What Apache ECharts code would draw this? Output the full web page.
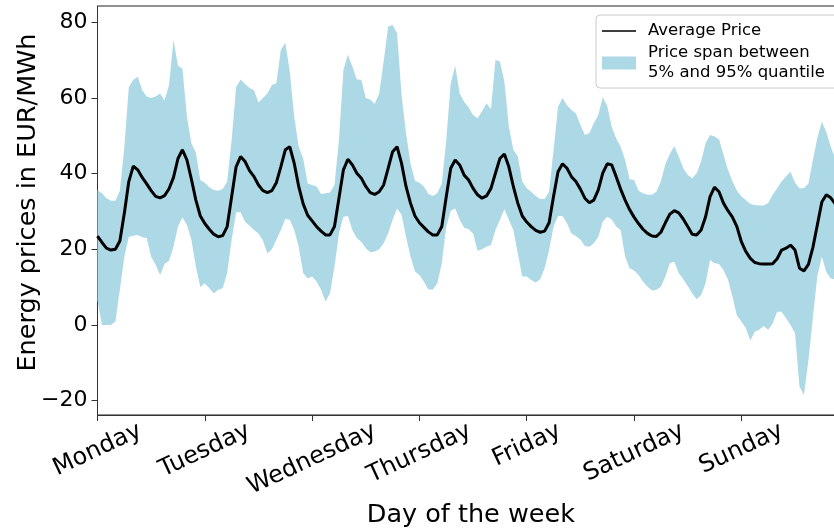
<!DOCTYPE html>
<html>
<head>
<meta charset="utf-8">
<script src="https://cdn.jsdelivr.net/npm/echarts@6/dist/echarts.min.js"></script>
<style>
html,body{margin:0;padding:0;background:#ffffff;}
#chart{width:834px;height:531px;}
</style>
</head>
<body>
<div id="chart"></div>
<script>
// ---------------- data ----------------
const dayLabels = ['Monday', 'Tuesday', 'Wednesday', 'Thursday', 'Friday', 'Saturday', 'Sunday'];
const hoursInWeek = 168;
const yTickValues = [-20, 0, 20, 40, 60, 80];

// hourly average price (hour 0 = Monday 00:00)
const meanPrice = [
  // Monday
  23.5, 21.8, 20.3, 19.8, 20.0, 22.2, 29.5, 37.9, 42.0, 41.0, 39.0, 37.3, 35.5, 34.0, 33.6, 34.2, 36.0, 39.0, 44.0, 46.3, 43.6, 38.5, 33.0, 28.8,
  // Tuesday
  26.8, 25.3, 24.0, 23.3, 23.6, 26.0, 33.9, 41.8, 44.5, 43.2, 40.8, 39.2, 37.0, 35.5, 35.0, 35.5, 37.6, 41.8, 46.3, 47.1, 42.7, 36.6, 32.0, 29.0,
  // Wednesday
  27.5, 26.0, 24.8, 23.8, 23.8, 26.0, 33.5, 41.0, 43.8, 42.3, 40.1, 38.8, 36.6, 35.0, 34.5, 35.2, 37.0, 41.4, 45.8, 47.1, 42.7, 36.6, 32.2, 28.8,
  // Thursday
  27.0, 25.8, 24.6, 23.8, 23.8, 26.0, 33.9, 41.4, 43.6, 42.3, 39.6, 38.3, 36.1, 34.4, 33.5, 34.1, 36.1, 40.1, 44.0, 45.2, 41.8, 36.6, 32.2, 28.8,
  // Friday
  27.2, 26.0, 25.0, 24.5, 24.8, 27.0, 34.0, 40.5, 42.6, 41.4, 39.2, 37.9, 35.9, 33.5, 32.3, 33.0, 35.7, 40.1, 42.6, 42.3, 39.2, 35.9, 33.0, 30.5,
  // Saturday
  28.5, 26.8, 25.3, 24.2, 23.5, 23.4, 24.5, 27.0, 29.3, 30.2, 29.6, 28.0, 26.0, 24.0, 23.8, 25.1, 28.6, 33.9, 36.4, 35.2, 32.2, 30.2, 28.5, 26.0,
  // Sunday (visible part)
  22.0, 19.4, 17.6, 16.5, 16.2, 16.1, 16.1, 16.2, 17.5, 19.8, 20.3, 21.1, 19.8, 15.0, 14.3, 16.0, 20.5, 26.5, 32.5, 34.4, 33.6, 32.0
];

// 95% quantile
const upperQuantile = [
  35.7, 34.8, 33.5, 32.8, 32.8, 35.5, 47.0, 62.8, 64.8, 65.6, 62.0, 60.4, 60.0, 60.4, 61.2, 59.3, 63.4, 75.3, 68.5, 67.7, 55.0, 48.0, 45.5, 38.3,
  37.6, 36.4, 35.7, 35.5, 35.9, 37.9, 48.9, 62.8, 64.9, 63.7, 62.6, 62.0, 58.8, 60.0, 61.2, 63.4, 63.9, 72.7, 74.6, 67.0, 55.0, 47.1, 44.0, 37.4,
  37.0, 36.6, 34.6, 34.8, 35.0, 37.0, 48.9, 67.4, 71.4, 68.3, 64.9, 64.8, 60.0, 59.6, 58.4, 61.2, 69.6, 78.9, 79.3, 77.1, 60.8, 50.7, 42.7, 38.1,
  37.6, 36.6, 34.6, 34.1, 34.8, 37.4, 48.9, 63.9, 68.5, 61.2, 59.0, 57.5, 55.5, 54.6, 56.5, 58.6, 57.0, 70.0, 69.6, 64.3, 52.4, 46.3, 44.5, 37.9,
  36.1, 35.2, 34.1, 33.3, 33.3, 35.2, 46.3, 57.7, 60.0, 58.1, 56.8, 55.9, 52.9, 50.2, 50.7, 53.3, 55.5, 60.2, 57.9, 52.4, 49.3, 47.1, 43.6, 38.5,
  38.3, 35.5, 34.8, 34.4, 34.4, 35.2, 37.9, 42.5, 45.2, 47.3, 44.5, 41.4, 39.6, 38.8, 40.1, 43.2, 48.0, 50.2, 49.8, 49.1, 45.0, 41.0, 38.0, 35.5,
  34.0, 33.0, 32.0, 31.7, 31.6, 31.6, 32.2, 34.4, 36.1, 37.9, 39.3, 40.5, 37.6, 36.1, 36.1, 37.4, 43.6, 49.5, 53.7, 51.0, 47.1, 44.0
];

// 5% quantile
const lowerQuantile = [
  6.5, 0.0, 0.0, 0.0, 0.9, 9.3, 18.0, 23.3, 23.6, 23.8, 23.2, 23.0, 18.0, 15.9, 13.2, 16.1, 17.0, 20.7, 26.0, 28.4, 26.4, 22.5, 15.4, 10.0,
  11.0, 9.7, 8.4, 9.3, 9.7, 13.7, 22.5, 29.8, 29.8, 27.3, 26.2, 25.1, 24.2, 22.3, 18.9, 20.0, 22.5, 25.1, 28.1, 27.8, 25.1, 20.7, 13.7, 12.3,
  12.8, 11.5, 9.3, 6.2, 8.4, 15.4, 24.2, 28.6, 28.8, 25.1, 22.9, 22.0, 20.3, 19.2, 19.4, 20.0, 21.6, 24.2, 27.8, 30.8, 29.1, 23.3, 18.1, 14.1,
  13.2, 11.5, 9.4, 9.4, 11.0, 16.3, 26.0, 30.2, 30.8, 27.8, 25.7, 25.3, 24.2, 19.6, 20.0, 20.7, 21.1, 25.1, 27.8, 30.6, 27.8, 25.1, 18.9, 12.8,
  12.8, 11.9, 11.2, 12.1, 15.0, 19.8, 26.0, 28.8, 28.8, 26.9, 24.2, 23.5, 22.6, 20.9, 20.7, 21.6, 23.3, 27.3, 28.6, 27.9, 26.0, 25.1, 18.1, 15.0,
  14.4, 13.2, 11.5, 10.1, 9.1, 9.3, 10.1, 12.8, 16.3, 16.7, 13.7, 12.1, 10.3, 8.4, 6.8, 7.9, 11.0, 17.2, 16.3, 16.1, 14.5, 12.0, 7.5, 2.5,
  0.9, -0.9, -4.1, -1.8, -1.3, -0.3, -1.3, 0.4, 3.5, 3.5, 1.8, 0.0, -2.2, -16.3, -18.5, -9.3, 2.0, 13.0, 18.0, 14.0, 12.3, 12.0
];

// ---------------- chart ----------------
const FONT = '"DejaVu Sans", "Liberation Sans", sans-serif';
const YTICK_FS = 22;
const XTICK_FS = 24;
const TITLE_FS = 25.5;
const BAND_COLOR = '#ADD8E6';
const SPAN_NAME = 'Price span between\n5% and 95% quantile';
const MEAN_NAME = 'Average Price';

const hourCategories = Array.from({length: hoursInWeek}, (_, h) => String(h));
const isDayStart = idx => idx % 24 === 0;

// matplotlib-like placement of rotated (25deg, centred) tick labels
const ROT = 25 * Math.PI / 180;
const S = Math.sin(ROT), C = Math.cos(ROT);
const mctx = document.createElement('canvas').getContext('2d');
mctx.font = XTICK_FS + 'px "DejaVu Sans"';
const richDays = {};
dayLabels.forEach((d, i) => {
  const w = mctx.measureText(d).width;
  const delta = w * S / 2;
  richDays['d' + i] = {
    fontSize: XTICK_FS, fontFamily: FONT, color: '#000',
    padding: [2 * delta * C, 2 * delta * S, 0, 0]
  };
});
const textH = XTICK_FS * 1.17;

const chart = echarts.init(document.getElementById('chart'), null, {renderer: 'canvas', devicePixelRatio: 1});
chart.setOption({
  animation: false,
  backgroundColor: '#ffffff',
  grid: {
    left: 97.5, top: 6, width: 746.7, height: 409,
    outerBoundsMode: 'none', containLabel: false,
    show: true, borderColor: '#222', borderWidth: 1, backgroundColor: 'transparent'
  },
  legend: {
    orient: 'vertical', left: 596, top: 15,
    padding: [6, 20, 5, 6], itemGap: 2, itemWidth: 34, itemHeight: 13,
    backgroundColor: 'rgba(255,255,255,0.8)', borderColor: '#cccccc', borderWidth: 1, borderRadius: 4,
    textStyle: {fontSize: 16.5, fontFamily: FONT, color: '#000', lineHeight: 20, padding: [0, 0, 0, 7]},
    data: [
      {name: MEAN_NAME, icon: 'path://M0,0L0,0ZM34,13L34,13ZM0,5.75L34,5.75L34,7.25L0,7.25Z'},
      {name: SPAN_NAME, icon: 'rect'}
    ]
  },
  xAxis: {
    type: 'category', data: hourCategories, boundaryGap: false,
    name: 'Day of the week', nameLocation: 'middle', nameGap: 87, nameMoveOverlap: false,
    nameTextStyle: {fontSize: TITLE_FS, fontFamily: FONT, color: '#000'},
    axisLine: {show: true, onZero: false, lineStyle: {color: '#333', width: 1}},
    axisTick: {show: true, length: 6, interval: isDayStart, lineStyle: {color: '#333', width: 1}},
    axisLabel: {
      interval: isDayStart, rotate: 25, align: 'center', verticalAlign: 'middle',
      margin: 2 + textH * C / 2,
      formatter: (v, idx) => { const i = Math.round(Number(v) / 24); return '{d' + i + '|' + dayLabels[i] + '}'; },
      rich: richDays
    },
    splitLine: {show: false}
  },
  yAxis: {
    type: 'value', min: -23.8, max: 84.3,
    name: 'Energy prices in EUR/MWh', nameLocation: 'middle', nameGap: 56, nameMoveOverlap: false,
    nameTextStyle: {fontSize: TITLE_FS, fontFamily: FONT, color: '#000', padding: [0, 0, 0, 16]},
    axisLine: {show: true, onZero: false, lineStyle: {color: '#333', width: 1}},
    axisTick: {show: true, length: 6, customValues: yTickValues, lineStyle: {color: '#333', width: 1}},
    axisLabel: {
      customValues: yTickValues, fontSize: YTICK_FS, fontFamily: FONT, color: '#000', margin: 10,
      formatter: v => (v < 0 ? '\u2212' + Math.abs(v) : String(v))
    },
    splitLine: {show: false}
  },
  series: [
    {
      name: 'lower', type: 'line', data: lowerQuantile,
      stack: 'band', stackStrategy: 'all', symbol: 'none', silent: true,
      lineStyle: {opacity: 0, width: 0}, z: 1
    },
    {
      name: SPAN_NAME, type: 'line',
      data: upperQuantile.map((v, i) => v - lowerQuantile[i]),
      stack: 'band', stackStrategy: 'all', symbol: 'none', color: BAND_COLOR,
      lineStyle: {opacity: 0, width: 0},
      areaStyle: {color: BAND_COLOR, opacity: 1}, z: 2
    },
    {
      name: MEAN_NAME, type: 'line', data: meanPrice,
      symbol: 'none', color: '#000',
      lineStyle: {color: '#000', width: 3}, z: 5
    }
  ]
});
</script>
</body>
</html>
